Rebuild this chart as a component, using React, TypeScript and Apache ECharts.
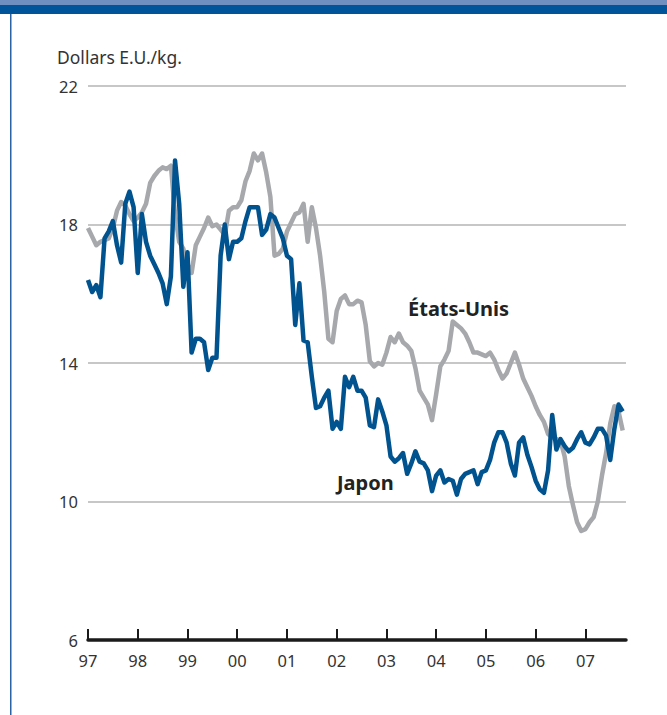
import React, { useEffect, useRef } from "react";
import * as echarts from "echarts";

// Monthly values, Jan 1997 – Oct 2007 (US$/kg)
const japon: number[] = [
  16.4, 16.05, 16.25, 15.9, 17.6, 17.8, 18.1, 17.4, 16.9, 18.6, 18.95, 18.5,
  16.6, 18.3, 17.5, 17.1, 16.85, 16.6, 16.3, 15.7, 16.5, 19.85, 18.6, 16.2,
  17.2, 14.3, 14.7, 14.7, 14.6, 13.8, 14.15, 14.15, 17.1, 18.0, 17.0, 17.5,
  17.5, 17.6, 18.1, 18.5, 18.5, 18.5, 17.7, 17.85, 18.3, 18.2, 17.9, 17.6,
  17.1, 17.0, 15.1, 16.3, 14.65, 14.6, 13.6, 12.7, 12.75, 13.0, 13.2, 12.1,
  12.3, 12.1, 13.6, 13.3, 13.6, 13.2, 13.2, 13.0, 12.2, 12.15, 12.95, 12.6,
  12.2, 11.3, 11.15, 11.25, 11.4, 10.8, 11.1, 11.45, 11.15, 11.1, 10.9, 10.3,
  10.75, 10.9, 10.55, 10.65, 10.6, 10.2, 10.65, 10.8, 10.85, 10.9, 10.5, 10.85,
  10.9, 11.2, 11.7, 12.0, 12.0, 11.7, 11.1, 10.75, 11.7, 11.85, 11.35, 11.0,
  10.6, 10.35, 10.25, 10.9, 12.5, 11.5, 11.8, 11.6, 11.45, 11.55, 11.8, 12.0,
  11.7, 11.65, 11.85, 12.1, 12.1, 11.9, 11.2, 12.1, 12.8, 12.6,
];

const etatsUnis: number[] = [
  17.9, 17.65, 17.4, 17.5, 17.55, 17.6, 17.9, 18.4, 18.65, 18.55, 18.3, 18.1,
  18.2, 18.35, 18.6, 19.2, 19.4, 19.55, 19.65, 19.6, 19.7, 18.3, 17.5, 17.3,
  16.85, 16.6, 17.4, 17.65, 17.9, 18.2, 17.95, 18.0, 17.85, 17.7, 18.4, 18.5,
  18.5, 18.7, 19.25, 19.55, 20.05, 19.85, 20.05, 19.5, 18.8, 17.1, 17.15, 17.3,
  17.8, 18.05, 18.3, 18.35, 18.6, 17.5, 18.5, 17.9, 17.1, 16.05, 14.7, 14.6,
  15.5, 15.85, 15.95, 15.7, 15.7, 15.8, 15.75, 15.1, 14.05, 13.9, 14.0, 13.95,
  14.3, 14.75, 14.6, 14.85, 14.6, 14.5, 14.35, 13.85, 13.2, 13.0, 12.8, 12.35,
  13.1, 13.9, 14.1, 14.35, 15.2, 15.1, 15.0, 14.85, 14.6, 14.3, 14.3, 14.25,
  14.2, 14.3, 14.1, 13.8, 13.55, 13.7, 14.0, 14.3, 13.95, 13.55, 13.3, 13.05,
  12.75, 12.5, 12.3, 11.95, 11.85, 11.8, 11.75, 11.3, 10.45, 9.9, 9.4, 9.15,
  9.2, 9.4, 9.55, 10.0, 10.75, 11.4, 12.25, 12.75, 12.6, 12.05,
];

const yearLabels: string[] = ["97", "98", "99", "00", "01", "02", "03", "04", "05", "06", "07"];
const yTicks: number[] = [6, 10, 14, 18, 22];
const unitLabel = "Dollars E.U./kg.";
const seriesNames: string[] = ["Japon", "États-Unis"];

const FONT = "'Noto Sans', 'Open Sans', sans-serif";

export default function App() {
  const ref = useRef<HTMLDivElement>(null);
  useEffect(() => {
    document.body.style.margin = "0";
    const chart = echarts.init(ref.current!, null, { renderer: "svg" });
    const toPairs = (arr: number[]) => arr.map((v, i) => [i, v]);
    chart.setOption({
      animation: false,
      backgroundColor: "#ffffff",
      grid: { left: 88, right: 41, top: 86, bottom: 75, containLabel: false },
      xAxis: {
        type: "value",
        min: 0,
        max: 129.8,
        interval: 12,
        axisLine: { show: true, lineStyle: { color: "#1a1a1a", width: 3.5 } },
        axisTick: { show: true, inside: true, length: 11, lineStyle: { color: "#1a1a1a", width: 2 } },
        axisLabel: {
          show: true,
          showMaxLabel: false,
          margin: 12,
          color: "#333",
          fontFamily: FONT,
          fontSize: 16.5,
          formatter: (v: number) => {
            const idx = Math.round(v / 12);
            return Number.isInteger(v / 12) && idx < yearLabels.length ? yearLabels[idx] : "";
          },
        },
        splitLine: { show: false },
      },
      yAxis: {
        type: "value",
        min: yTicks[0],
        max: yTicks[yTicks.length - 1],
        interval: 4,
        axisLine: { show: false },
        axisTick: { show: false },
        axisLabel: { margin: 10, color: "#333", fontFamily: FONT, fontSize: 16.5 },
        splitLine: { show: true, lineStyle: { color: "#b5b5b5", width: 1.5 } },
      },
      series: [
        {
          name: seriesNames[1],
          type: "line",
          data: toPairs(etatsUnis),
          showSymbol: false,
          lineStyle: { color: "#a6a8ab", width: 4.5, join: "round" },
          z: 2,
        },
        {
          name: seriesNames[0],
          type: "line",
          data: toPairs(japon),
          showSymbol: false,
          lineStyle: { color: "#00538f", width: 4.5, join: "round" },
          z: 3,
        },
      ],
      graphic: [
        { type: "rect", left: 0, top: 0, shape: { width: 667, height: 5 }, style: { fill: "#6f8fc1" }, silent: true },
        { type: "rect", left: 0, top: 5, shape: { width: 667, height: 9 }, style: { fill: "#00559a" }, silent: true },
        { type: "rect", left: 10, top: 14, shape: { width: 1.5, height: 701 }, style: { fill: "#2b62a3" }, silent: true },
        {
          type: "text",
          left: 57,
          top: 48,
          style: { text: unitLabel, fill: "#333", font: `17.5px ${FONT}` },
        },
        {
          type: "text",
          left: 408,
          top: 298,
          style: { text: seriesNames[1], fill: "#222", font: `bold 20px ${FONT}` },
        },
        {
          type: "text",
          left: 337,
          top: 472,
          style: { text: seriesNames[0], fill: "#222", font: `bold 20px ${FONT}` },
        },
      ],
    });
    return () => chart.dispose();
  }, []);
  return <div ref={ref} style={{ width: 667, height: 715, position: "absolute", left: 0, top: 0 }} />;
}
